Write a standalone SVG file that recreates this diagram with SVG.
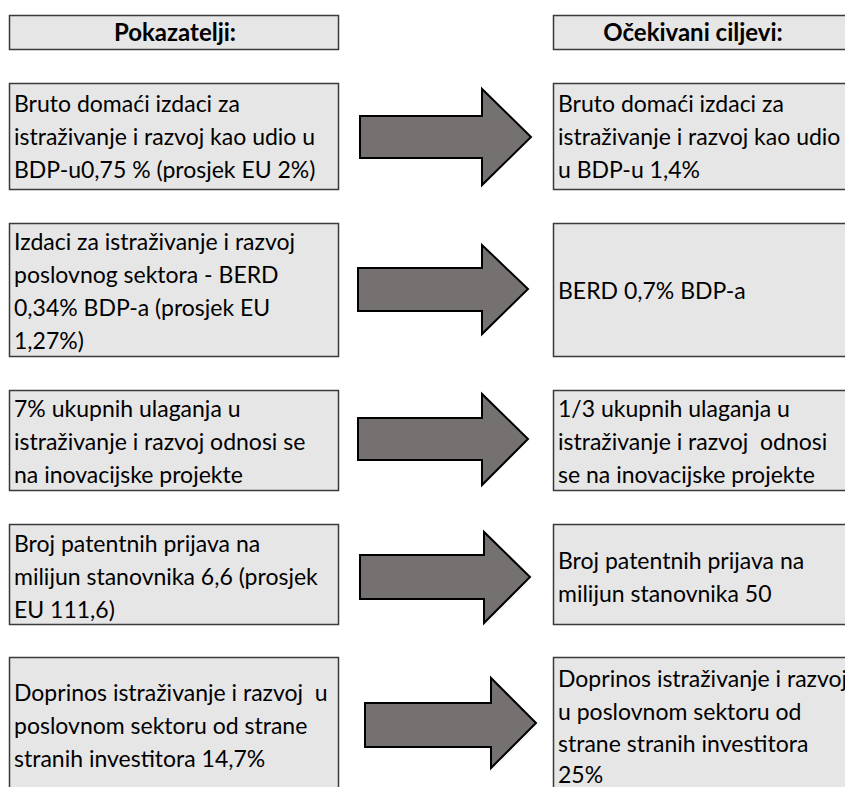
<svg xmlns="http://www.w3.org/2000/svg" width="845" height="787" viewBox="0 0 845 787">
<style>
.box{fill:#e7e6e6;stroke:#3a3a3a;stroke-width:1.5}
.arr{fill:#767171;stroke:#000;stroke-width:2;stroke-linejoin:miter}
.t{font-family:Lato,"Liberation Sans",sans-serif;font-size:23px;fill:#000}
.h{font-family:Lato,"Liberation Sans",sans-serif;font-size:24px;font-weight:bold;fill:#000}
</style>
<rect width="845" height="787" fill="#fff"/>
<g id="hdr-left"><rect class="box" x="9.5" y="15.5" width="329" height="34"/><text class="h" x="175" y="41" text-anchor="middle">Pokazatelji:</text></g>
<g id="hdr-right"><rect class="box" x="553.5" y="15.5" width="310" height="34"/><text class="h" x="693" y="41" text-anchor="middle">Očekivani ciljevi:</text></g>

<g id="l1"><rect class="box" x="9.5" y="83.5" width="329" height="106"/>
<text class="t" x="14" y="112">Bruto domaći izdaci za</text>
<text class="t" x="14" y="145">istraživanje i razvoj kao udio u</text>
<text class="t" x="14" y="178">BDP-u0,75 % (prosjek EU 2%)</text></g>
<g id="r1"><rect class="box" x="553.5" y="83.5" width="310" height="106"/>
<text class="t" x="558" y="112">Bruto domaći izdaci za</text>
<text class="t" x="558" y="145">istraživanje i razvoj kao udio</text>
<text class="t" x="558" y="178">u BDP-u 1,4%</text></g>

<g id="l2"><rect class="box" x="9.5" y="223.5" width="329" height="133"/>
<text class="t" x="14" y="250">Izdaci za istraživanje i razvoj</text>
<text class="t" x="14" y="283">poslovnog sektora - BERD</text>
<text class="t" x="14" y="316">0,34% BDP-a (prosjek EU</text>
<text class="t" x="14" y="349">1,27%)</text></g>
<g id="r2"><rect class="box" x="553.5" y="223.5" width="310" height="133"/>
<text class="t" x="558" y="299">BERD 0,7% BDP-a</text></g>

<g id="l3"><rect class="box" x="9.5" y="390.5" width="329" height="100"/>
<text class="t" x="14" y="417">7% ukupnih ulaganja u</text>
<text class="t" x="14" y="450">istraživanje i razvoj odnosi se</text>
<text class="t" x="14" y="483">na inovacijske projekte</text></g>
<g id="r3"><rect class="box" x="553.5" y="390.5" width="310" height="100"/>
<text class="t" x="558" y="417">1/3 ukupnih ulaganja u</text>
<text class="t" x="558" y="450" xml:space="preserve">istraživanje i razvoj  odnosi</text>
<text class="t" x="558" y="483">se na inovacijske projekte</text></g>

<g id="l4"><rect class="box" x="9.5" y="524.5" width="329" height="100"/>
<text class="t" x="14" y="552">Broj patentnih prijava na</text>
<text class="t" x="14" y="585">milijun stanovnika 6,6 (prosjek</text>
<text class="t" x="14" y="618">EU 111,6)</text></g>
<g id="r4"><rect class="box" x="553.5" y="524.5" width="310" height="100"/>
<text class="t" x="558" y="569">Broj patentnih prijava na</text>
<text class="t" x="558" y="602">milijun stanovnika 50</text></g>

<g id="l5"><rect class="box" x="9.5" y="657.5" width="329" height="150"/>
<text class="t" x="14" y="701" xml:space="preserve">Doprinos istraživanje i razvoj  u</text>
<text class="t" x="14" y="734">poslovnom sektoru od strane</text>
<text class="t" x="14" y="767">stranih investitora 14,7%</text></g>
<g id="r5"><rect class="box" x="553.5" y="657.5" width="310" height="150"/>
<text class="t" x="558" y="687">Doprinos istraživanje i razvoj</text>
<text class="t" x="558" y="720">u poslovnom sektoru od</text>
<text class="t" x="558" y="752">strane stranih investitora</text>
<text class="t" x="558" y="783">25%</text></g>

<g id="connectors">
<polygon class="arr" points="360,116 482,116 482,89 531,137 482,185 482,158 360,158"/>
<polygon class="arr" points="358,268 482,268 482,245 528,289 482,334 482,311 358,311"/>
<polygon class="arr" points="358,418 482,418 482,394 528,439 482,485 482,460 358,460"/>
<polygon class="arr" points="360,555 484,555 484,532 530,577 484,623 484,599 360,599"/>
<polygon class="arr" points="365,703 491,703 491,678 536,723 491,768 491,747 365,747"/>
</g>
</svg>
